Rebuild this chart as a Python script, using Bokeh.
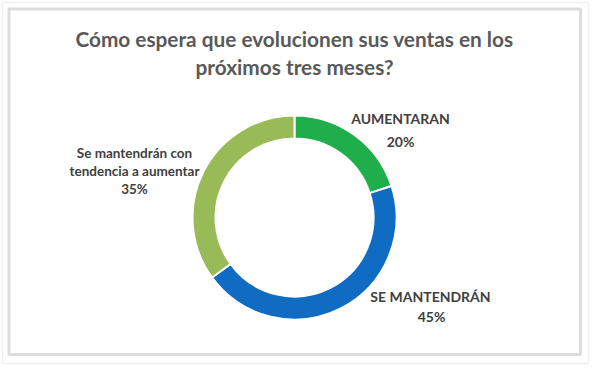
from math import pi
from bokeh.plotting import figure
from bokeh.models import Range1d, ColumnDataSource, BoxAnnotation
from bokeh.core.properties import value
from bokeh.embed import file_html
from bokeh.resources import INLINE

# ---- data ----
categories = ["AUMENTARAN", "SE MANTENDRÁN", "Se mantendrán con tendencia a aumentar"]
values = [20, 45, 35]
colors = ["#1fae4b", "#106cc2", "#98bb57"]
title_lines = ["Cómo espera que evolucionen sus ventas en los", "próximos tres meses?"]

W, H = 595, 369
p = figure(width=W, height=H, output_backend="svg", toolbar_location=None,
           x_range=Range1d(0, W), y_range=Range1d(0, H), min_border=0)
p.axis.visible = False
p.grid.visible = False
p.outline_line_color = None
p.background_fill_color = "white"
p.border_fill_color = "white"

def Y(yimg):
    return H - yimg

def X(ximg):
    return ximg

# frame
p.add_layout(BoxAnnotation(left=2, right=588, bottom=Y(363), top=Y(2),
                           fill_alpha=0, line_color="#cfcfcf", line_width=1.5))
p.add_layout(BoxAnnotation(left=8.5, right=580, bottom=Y(354), top=Y(8.5),
                           fill_alpha=0, line_color="#8a8a8a", line_width=3))

# wedges, start at top, clockwise
total = sum(values)
starts, ends = [], []
acc = 0
for v in values:
    starts.append(pi / 2 - 2 * pi * acc / total)
    acc += v
    ends.append(pi / 2 - 2 * pi * acc / total)

src = ColumnDataSource(dict(start=starts, end=ends, color=colors))
cx, cy = X(294), Y(217)
p.annular_wedge(x=cx, y=cy, inner_radius=79, outer_radius=102,
                start_angle="start", end_angle="end", direction="clock",
                fill_color="color", line_color="white", line_width=2, source=src)

# title
p.text(x=[X(294), X(294)], y=[Y(38), Y(66)], text=title_lines,
       text_align="center", text_baseline="middle",
       text_font=value("Lato"), text_font_style="bold",
       text_font_size="20.8px", text_color="#595959")

# labels
pct = [f"{v}%" for v in values]
lab_x = [X(400), X(400), X(430), X(431), X(134), X(134), X(134)]
lab_y = [Y(118), Y(141), Y(296), Y(316), Y(152), Y(170), Y(188)]
lab_t = [categories[0], pct[0], categories[1], pct[1],
         "Se mantendrán con", "tendencia a aumentar", pct[2]]
lab_s = ["14px", "14px", "14px", "14px", "13.5px", "13.5px", "13.5px"]
lsrc = ColumnDataSource(dict(x=lab_x, y=lab_y, t=lab_t, s=lab_s))
p.text(x="x", y="y", text="t", text_font_size="s", source=lsrc,
       text_align="center", text_baseline="middle",
       text_font=value("Lato"), text_font_style="bold", text_color="#404040")

open("out.html", "w").write(file_html(p, INLINE))
